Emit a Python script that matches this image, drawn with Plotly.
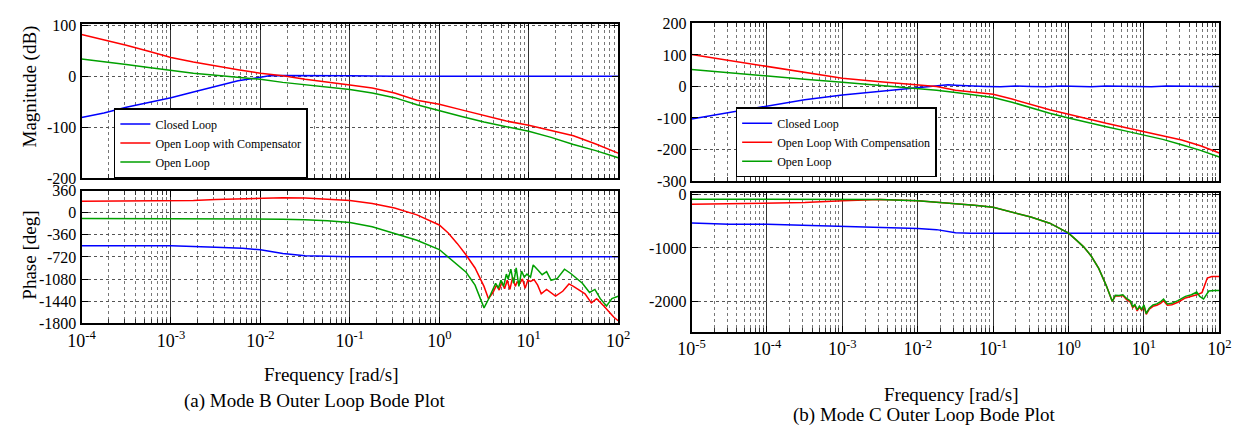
import numpy as np
import plotly.graph_objects as go

# ---------------- DATA (log10 of frequency in rad/s, values) ----------------
# (a) Mode B - magnitude [dB]
A_MAG_CL_W = [-4, -3.75, -3.5, -3.25, -3, -2.75, -2.5, -2.25, -2, -1.9, -1.75, -1.5, -1.0, -0.5, 0, 0.5, 1, 1.5, 2]
A_MAG_CL = [-81, -72, -61, -52, -42, -31, -20, -9, -2, 1, 1.5, 1.5, 1, 0, 0, 0, 0, 0, 0]
A_MAG_OLC_W = [-4, -3.75, -3.5, -3.25, -3, -2.75, -2.5, -2.25, -2, -1.75, -1.5, -1.25, -1, -0.75, -0.5, -0.25, 0, 0.25, 0.5, 0.75, 1, 1.25, 1.5, 1.75, 2]
A_MAG_OLC = [82, 72, 61, 49, 37, 28, 20, 13, 6, 1, -6, -11, -17, -23, -33, -47, -55, -66, -77, -88, -96, -106, -117, -133, -151]
A_MAG_OL_W = [-4, -3.75, -3.5, -3.25, -3, -2.75, -2.5, -2.25, -2, -1.75, -1.5, -1.25, -1, -0.75, -0.5, -0.25, 0, 0.25, 0.5, 0.75, 1, 1.25, 1.5, 1.75, 2]
A_MAG_OL = [34, 29, 23, 17, 11, 6, 2, -2, -6, -12, -17, -21, -26, -33, -42, -56, -68, -79, -90, -99, -108, -120, -134, -146, -160]

# (a) Mode B - phase [deg]
A_PH_CL_W = [-4, -3.5, -3, -2.5, -2.2, -2, -1.75, -1.5, -1.25, -1, 0, 1, 2]
A_PH_CL = [-537, -537, -540, -562, -580, -605, -665, -700, -715, -718, -718, -718, -718]
A_PH_OLC_W = [-4, -3.5, -3, -2.75, -2.5, -2.25, -2, -1.75, -1.5, -1.25, -1, -0.75, -0.5, -0.25, 0, 0.1, 0.2, 0.3, 0.4, 0.5, 0.55,
              0.6, 0.64, 0.67, 0.7, 0.73, 0.76, 0.79, 0.82, 0.85, 0.87, 0.9, 0.93, 0.96, 0.99, 1.02, 1.06, 1.1, 1.14, 1.2, 1.3,
              1.38, 1.45, 1.5, 1.56, 1.63, 1.7, 1.76, 1.84, 1.9, 1.95, 2]
A_PH_OLC = [188, 188, 190, 200, 215, 225, 238, 245, 240, 225, 200, 150, 75, -35, -200, -330, -500, -690, -900, -1200, -1400,
            -1300, -1180, -1260, -1130, -1240, -1100, -1250, -1050, -1200, -1130, -1150, -1080, -1230, -1100, -1120, -1090, -1180, -1320, -1250, -1360,
            -1280, -1160, -1200, -1250, -1320, -1470, -1400, -1520, -1620, -1700, -1760]
A_PH_OL_W = [-4, -2, -1.75, -1.5, -1.25, -1, -0.75, -0.5, -0.25, 0, 0.1, 0.2, 0.3, 0.4, 0.5, 0.55, 0.6, 0.63, 0.66, 0.69,
             0.72, 0.75, 0.77, 0.8, 0.83, 0.86, 0.89, 0.92, 0.95, 0.98, 1.02, 1.05, 1.1, 1.15, 1.2, 1.25, 1.32, 1.4, 1.47,
             1.53, 1.6, 1.68, 1.74, 1.8, 1.87, 1.93, 2]
A_PH_OL = [-94, -94, -105, -115, -130, -160, -230, -340, -450, -600, -720, -840, -970, -1180, -1550, -1410, -1260, -1150, -1230, -1100,
           -1200, -1000, -1080, -920, -1150, -900, -1200, -950, -1050, -1000, -1050, -850, -930, -1010, -960, -1100, -1070, -920, -990,
           -1060, -1150, -1300, -1250, -1400, -1520, -1400, -1360]

# (b) Mode C - magnitude [dB]
B_MAG_CL_W = [-5, -4.5, -4, -3.5, -3, -2.5, -2, -1.75, -1.6, -1.5, -1.3, -1.1, -0.9, -0.7, -0.5, -0.3, -0.1, 0.1, 0.3, 0.5, 0.7, 0.9, 1.1, 1.3, 1.5, 1.7, 1.9, 2]
B_MAG_CL = [-103, -82, -63, -42, -27, -15, -5, 1, 5, 4, 1, 0, -1, 1, 0, -1, 1, 0, -1, 1, 0, 1, -1, 1, 0, 1, 0, 0]
B_MAG_OLC_W = [-5, -4.5, -4, -3.5, -3, -2.5, -2, -1.75, -1.5, -1.25, -1, -0.75, -0.5, -0.25, 0, 0.25, 0.5, 0.75, 1, 1.25, 1.5, 1.75, 2]
B_MAG_OLC = [101, 82, 64, 43, 26, 15, 6, 0, -12, -18, -25, -40, -58, -74, -88, -103, -117, -130, -143, -157, -170, -188, -211]
B_MAG_OL_W = [-5, -4.5, -4, -3.5, -3, -2.5, -2, -1.75, -1.5, -1.25, -1, -0.75, -0.5, -0.25, 0, 0.25, 0.5, 0.75, 1, 1.25, 1.5, 1.75, 2]
B_MAG_OL = [54, 43, 33, 23, 13, 3, -5, -12, -19, -26, -35, -50, -68, -85, -100, -115, -128, -141, -154, -168, -185, -203, -224]

# (b) Mode C - phase [deg]
B_PH_CL_W = [-5, -4.5, -4, -3.5, -3, -2.5, -2, -1.75, -1.5, -1.3, 0, 1, 2]
B_PH_CL = [-538, -561, -561, -579, -608, -626, -637, -660, -720, -725, -725, -725, -725]
B_PH_OLC_W = [-5, -4.5, -4, -3.5, -3, -2.75, -2.5, -2, -1.75, -1.5, -1.25, -1, -0.75, -0.5, -0.25, 0, 0.1, 0.2, 0.3, 0.4, 0.5,
              0.58, 0.62, 0.67, 0.72, 0.77, 0.82, 0.85, 0.88, 0.91, 0.94, 0.97, 1.0, 1.03, 1.07, 1.12, 1.17, 1.22, 1.26, 1.31,
              1.37, 1.45, 1.55, 1.63, 1.7, 1.77, 1.84, 1.9, 2]
B_PH_OLC = [-187, -180, -170, -158, -125, -108, -100, -125, -150, -170, -205, -246, -330, -425, -540, -725, -850, -980, -1150, -1380, -1700,
            -1995, -1890, -1895, -1885, -1960, -2005, -2110, -2070, -2170, -2100, -2160, -2080, -2235, -2140, -2085, -2065, -2030, -1980, -2065,
            -2055, -2010, -1930, -1900, -1870, -1830, -1560, -1530, -1530]
B_PH_OL_W = [-5, -4, -3, -2.5, -2, -1.75, -1.5, -1.25, -1, -0.75, -0.5, -0.25, 0, 0.1, 0.2, 0.3, 0.4, 0.5,
             0.58, 0.62, 0.67, 0.72, 0.77, 0.82, 0.85, 0.88, 0.91, 0.94, 0.97, 1.0, 1.03, 1.07, 1.12, 1.17, 1.22, 1.26, 1.31,
             1.37, 1.45, 1.55, 1.63, 1.7, 1.74, 1.79, 1.86, 1.94, 2]
B_PH_OL = [-93, -93, -95, -100, -125, -150, -170, -205, -246, -330, -425, -540, -725, -850, -980, -1150, -1380, -1700,
           -1995, -1880, -1885, -1870, -1940, -1985, -2090, -2050, -2150, -2080, -2140, -2060, -2220, -2120, -2060, -2040, -2000, -1950, -2040,
           -2030, -1980, -1900, -1870, -1820, -1900, -1950, -1800, -1790, -1790]

LEGEND_NAMES_A = ["Closed Loop", "Open Loop with Compensator", "Open Loop"]
LEGEND_NAMES_B = ["Closed Loop", "Open Loop With Compensation", "Open Loop"]

A_MAG_TICKS = [-200, -100, 0, 100]
A_PH_TICKS = [-1800, -1440, -1080, -720, -360, 0, 360]
B_MAG_TICKS = [-300, -200, -100, 0, 100, 200]
B_PH_TICKS = [-2000, -1000, 0]
A_DECADES = list(range(-4, 3))
B_DECADES = list(range(-5, 3))

# ---------------- FIGURE ----------------
W, H = 1248, 436
FONT = "Liberation Serif"
BLUE, RED, GREEN = "#0000ff", "#ff0000", "#00a000"


def px(x):
    return x / W


def py(y):
    return 1 - y / H


fig = go.Figure()


def add(logw, vals, color, name, xa, ya, legend, showlegend):
    fig.add_trace(go.Scatter(
        x=10.0 ** np.array(logw, dtype=float), y=vals, mode="lines",
        line=dict(color=color, width=1.5), name=name,
        xaxis=xa, yaxis=ya, legend=legend, showlegend=showlegend))


add(A_MAG_CL_W, A_MAG_CL, BLUE, LEGEND_NAMES_A[0], "x", "y", "legend", True)
add(A_MAG_OLC_W, A_MAG_OLC, RED, LEGEND_NAMES_A[1], "x", "y", "legend", True)
add(A_MAG_OL_W, A_MAG_OL, GREEN, LEGEND_NAMES_A[2], "x", "y", "legend", True)
add(A_PH_CL_W, A_PH_CL, BLUE, LEGEND_NAMES_A[0], "x2", "y2", "legend", False)
add(A_PH_OLC_W, A_PH_OLC, RED, LEGEND_NAMES_A[1], "x2", "y2", "legend", False)
add(A_PH_OL_W, A_PH_OL, GREEN, LEGEND_NAMES_A[2], "x2", "y2", "legend", False)

add(B_MAG_CL_W, B_MAG_CL, BLUE, LEGEND_NAMES_B[0], "x3", "y3", "legend2", True)
add(B_MAG_OLC_W, B_MAG_OLC, RED, LEGEND_NAMES_B[1], "x3", "y3", "legend2", True)
add(B_MAG_OL_W, B_MAG_OL, GREEN, LEGEND_NAMES_B[2], "x3", "y3", "legend2", True)
add(B_PH_CL_W, B_PH_CL, BLUE, LEGEND_NAMES_B[0], "x4", "y4", "legend2", False)
add(B_PH_OLC_W, B_PH_OLC, RED, LEGEND_NAMES_B[1], "x4", "y4", "legend2", False)
add(B_PH_OL_W, B_PH_OL, GREEN, LEGEND_NAMES_B[2], "x4", "y4", "legend2", False)


def xaxis(domain, decades, labels, anchor):
    tv = [10.0 ** k for k in decades]
    tt = [f"10<sup>{k}</sup>" for k in decades]
    mv = [m * 10.0 ** k for k in decades[:-1] for m in range(2, 10)]
    return dict(
        type="log", domain=domain, range=[decades[0], decades[-1]], anchor=anchor,
        tickmode="array", tickvals=tv, ticktext=tt, showticklabels=labels,
        ticks="inside", ticklen=6, tickwidth=1, tickcolor="black",
        showline=True, linecolor="black", linewidth=2, mirror="ticks",
        showgrid=True, gridcolor="#333333", gridwidth=1, griddash="solid",
        zeroline=False,
        minor=dict(tickmode="array", tickvals=mv, ticks="inside", ticklen=4,
                   tickcolor="#333333", showgrid=True, gridcolor="#777777",
                   griddash="dot", gridwidth=1),
        tickfont=dict(family=FONT, size=18, color="black"),
    )


def yaxis(domain, rng, ticks, anchor):
    return dict(
        domain=domain, range=rng, anchor=anchor,
        tickmode="array", tickvals=ticks, ticktext=[str(t) for t in ticks],
        ticks="inside", ticklen=6, tickcolor="black",
        showline=True, linecolor="black", linewidth=2, mirror="ticks",
        showgrid=True, gridcolor="#555555", gridwidth=1, griddash="dot",
        zeroline=False,
        tickfont=dict(family=FONT, size=16, color="black"),
    )


leg_common = dict(xanchor="left", yanchor="bottom", bgcolor="white",
                  bordercolor="black", borderwidth=1.5,
                  font=dict(family=FONT, size=12, color="black"),
                  tracegroupgap=0)

ann = []


def text(x, y, s, size=19, angle=0):
    ann.append(dict(x=px(x), y=py(y), xref="paper", yref="paper", text=s,
                    showarrow=False, textangle=angle, xanchor="center", yanchor="middle",
                    font=dict(family=FONT, size=size, color="black")))


text(16, 82, "Magnitude (dB)", angle=-90)
text(16, 257, "Phase [deg]", angle=-90)
text(324, 381, "Frequency [rad/s]")
text(307, 409, "(a) Mode B Outer Loop Bode Plot")
text(957, 402, "Frequency [rad/s]")
text(929, 423, "(b) Mode C Outer Loop Bode Plot")

fig.update_layout(
    width=W, height=H, margin=dict(l=0, r=0, t=0, b=0),
    paper_bgcolor="white", plot_bgcolor="white", showlegend=True,
    xaxis=xaxis([px(69), px(617)], A_DECADES, False, "y"),
    yaxis=yaxis([py(177), py(17)], [-200, 102], A_MAG_TICKS, "x"),
    xaxis2=xaxis([px(69), px(617)], A_DECADES, True, "y2"),
    yaxis2=yaxis([py(328), py(190)], [-1800, 360], A_PH_TICKS, "x2"),
    xaxis3=xaxis([px(692), px(1231)], B_DECADES, False, "y3"),
    yaxis3=yaxis([py(180), py(16)], [-300, 200], B_MAG_TICKS, "x3"),
    xaxis4=xaxis([px(692), px(1231)], B_DECADES, True, "y4"),
    yaxis4=yaxis([py(337), py(192)], [-2560, 30], B_PH_TICKS, "x4"),
    legend=dict(x=px(102), y=py(177), **leg_common),
    legend2=dict(x=px(737), y=py(176), **leg_common),
    annotations=ann,
)

fig.write_html("out.html")
